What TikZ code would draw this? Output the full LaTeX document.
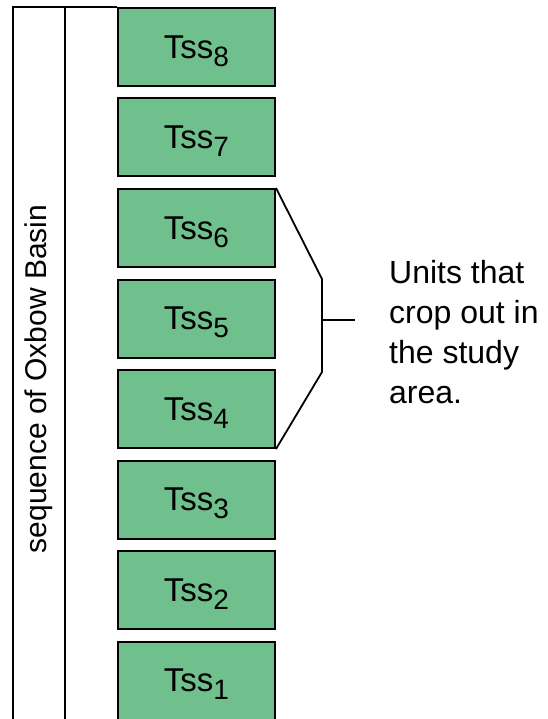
\documentclass[tikz,border=0pt]{standalone}
\usepackage{fontspec}
\setmainfont{Liberation Sans}
\usetikzlibrary{positioning}
\definecolor{unitgreen}{RGB}{112,192,142}
\newcommand{\tssname}[1]{Tss\raisebox{-8pt}[0pt][0pt]{\fontsize{28}{28}\selectfont #1}}
\tikzset{
	unitbox/.style={draw,line width=2pt,fill=unitgreen,minimum width=157pt,minimum height=78pt,inner sep=0pt,font=\fontsize{33}{33}\selectfont},
	frameline/.style={line width=2.6pt}
}
\begin{document}
\begin{tikzpicture}[x=1pt,y=-1pt]
	\clip (0,0) rectangle (547,719);
	\fill[white] (0,0) rectangle (547,719);
	% units, youngest on top
	\foreach \i in {1,...,8}
	\node[unitbox] (tss\i) at (196.5,{47+90.5*(8-\i)}) {\tssname{\i}};
	% column
	\draw[frameline] (13,730) |- (tss8.north west);
	\draw[frameline] (65,8) -- (65,730);
	\node[rotate=90,font=\fontsize{30}{30}\selectfont] (basin) at (39,379) {sequence of Oxbow Basin};
	% bracket
	\coordinate (bk1) at (322,279);
	\coordinate (bk2) at (322,372);
	\coordinate (bkmid) at (322,320);
	\coordinate (tick) at (355,320);
	\draw[line width=1.8pt] (tss6.north east) -- (bk1) -- (bk2) -- (tss4.south east);
	\draw[line width=1.8pt] (bkmid) -- (tick);
	\node[anchor=north west,align=left,inner sep=0pt,font=\fontsize{32}{40}\selectfont] (note) at (389,260) {Units that\\crop out in\\the study\\area.};
\end{tikzpicture}
\end{document}
